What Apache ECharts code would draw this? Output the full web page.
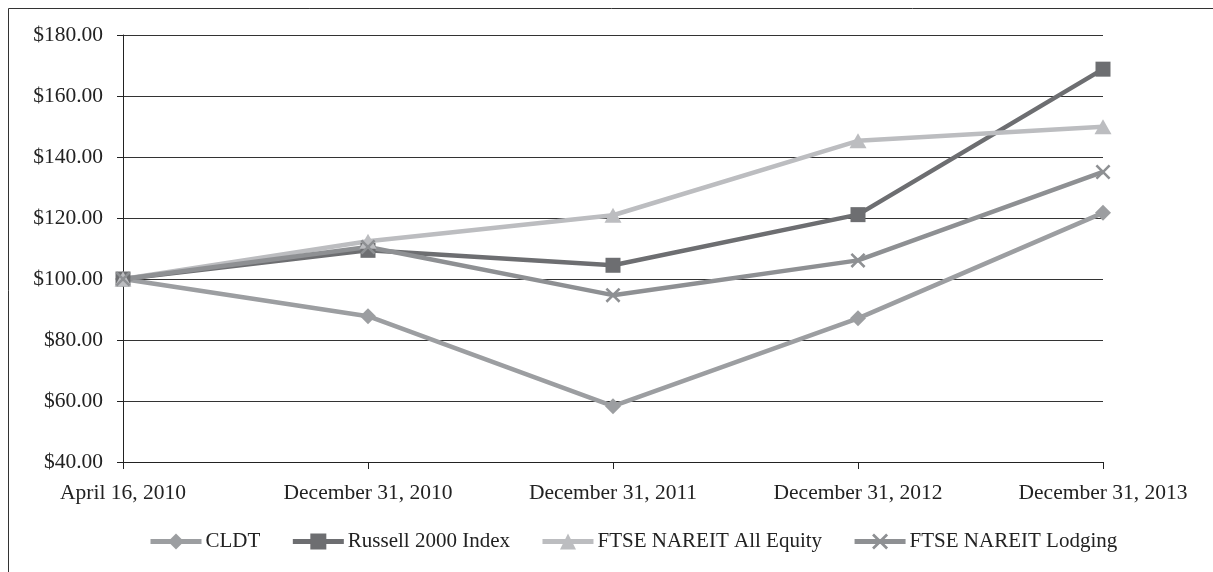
<!DOCTYPE html>
<html>
<head>
<meta charset="utf-8">
<script src="https://cdn.jsdelivr.net/npm/echarts@6/dist/echarts.min.js"></script>
<style>
html,body{margin:0;padding:0;background:#fff;}
#c{width:1213px;height:572px;}
</style>
</head>
<body>
<div id="c"></div>
<script>
var categories = ["April 16, 2010", "December 31, 2010", "December 31, 2011", "December 31, 2012", "December 31, 2013"];
var cldt = [100, 87.8, 58.3, 87.1, 121.7];
var russell = [100, 109.4, 104.5, 121.1, 168.8];
var allEquity = [100, 112.4, 120.9, 145.3, 149.9];
var lodging = [100, 110.5, 94.7, 106.1, 135.1];
var yTicks = {min: 40, max: 180, interval: 20};

var xPath = 'path://M0,1.2L1.2,0L5,3.8L8.8,0L10,1.2L6.2,5L10,8.8L8.8,10L5,6.2L1.2,10L0,8.8L3.8,5Z';
var font = '"Liberation Serif", "Times New Roman", serif';

function mk(name, data, color, symbol, size) {
  return {
    name: name, type: 'line', data: data,
    symbol: symbol, symbolSize: size, showSymbol: true,
    lineStyle: {color: color, width: 4.5},
    itemStyle: {color: color},
    emphasis: {disabled: true},
    animation: false
  };
}

var chart = echarts.init(document.getElementById('c'), null, {renderer: 'canvas'});
chart.setOption({
  backgroundColor: '#fff',
  animation: false,
  graphic: [{
    type: 'rect', silent: true,
    shape: {x: 8.5, y: 8.5, width: 1400, height: 800},
    style: {fill: 'none', stroke: '#333', lineWidth: 1}
  }],
  grid: {left: 123, right: 110, top: 35, bottom: 110},
  xAxis: {
    type: 'category', data: categories, boundaryGap: false,
    axisLine: {lineStyle: {color: '#222', width: 1}},
    axisTick: {show: true, length: 7, alignWithLabel: true, lineStyle: {color: '#222'}},
    axisLabel: {color: '#222', fontFamily: font, fontSize: 21.5, margin: 20, interval: 0},
    splitLine: {show: false}
  },
  yAxis: {
    type: 'value', min: yTicks.min, max: yTicks.max, interval: yTicks.interval,
    axisLine: {show: true, lineStyle: {color: '#222', width: 1}},
    axisTick: {show: true, length: 6, lineStyle: {color: '#222'}},
    axisLabel: {color: '#222', fontFamily: font, fontSize: 21.5, margin: 20,
      formatter: function (v) { return '$' + v.toFixed(2); }},
    splitLine: {show: true, lineStyle: {color: '#333', width: 1}}
  },
  legend: {
    bottom: 20, left: 148, padding: 0,
    itemWidth: 51, itemHeight: 20, itemGap: 30,
    lineStyle: {width: 5},
    textStyle: {color: '#222', fontFamily: font, fontSize: 21, padding: [0, 0, 0, -1]},
    data: ['CLDT', 'Russell 2000 Index', 'FTSE NAREIT All Equity', 'FTSE NAREIT Lodging']
  },
  series: [
    mk('CLDT', cldt, '#9c9ea1', 'diamond', [16, 16]),
    mk('Russell 2000 Index', russell, '#6d6e71', 'rect', [15, 15]),
    mk('FTSE NAREIT All Equity', allEquity, '#bcbdc0', 'triangle', [17, 15]),
    mk('FTSE NAREIT Lodging', lodging, '#8e9093', xPath, [15, 15])
  ]
});
</script>
</body>
</html>
